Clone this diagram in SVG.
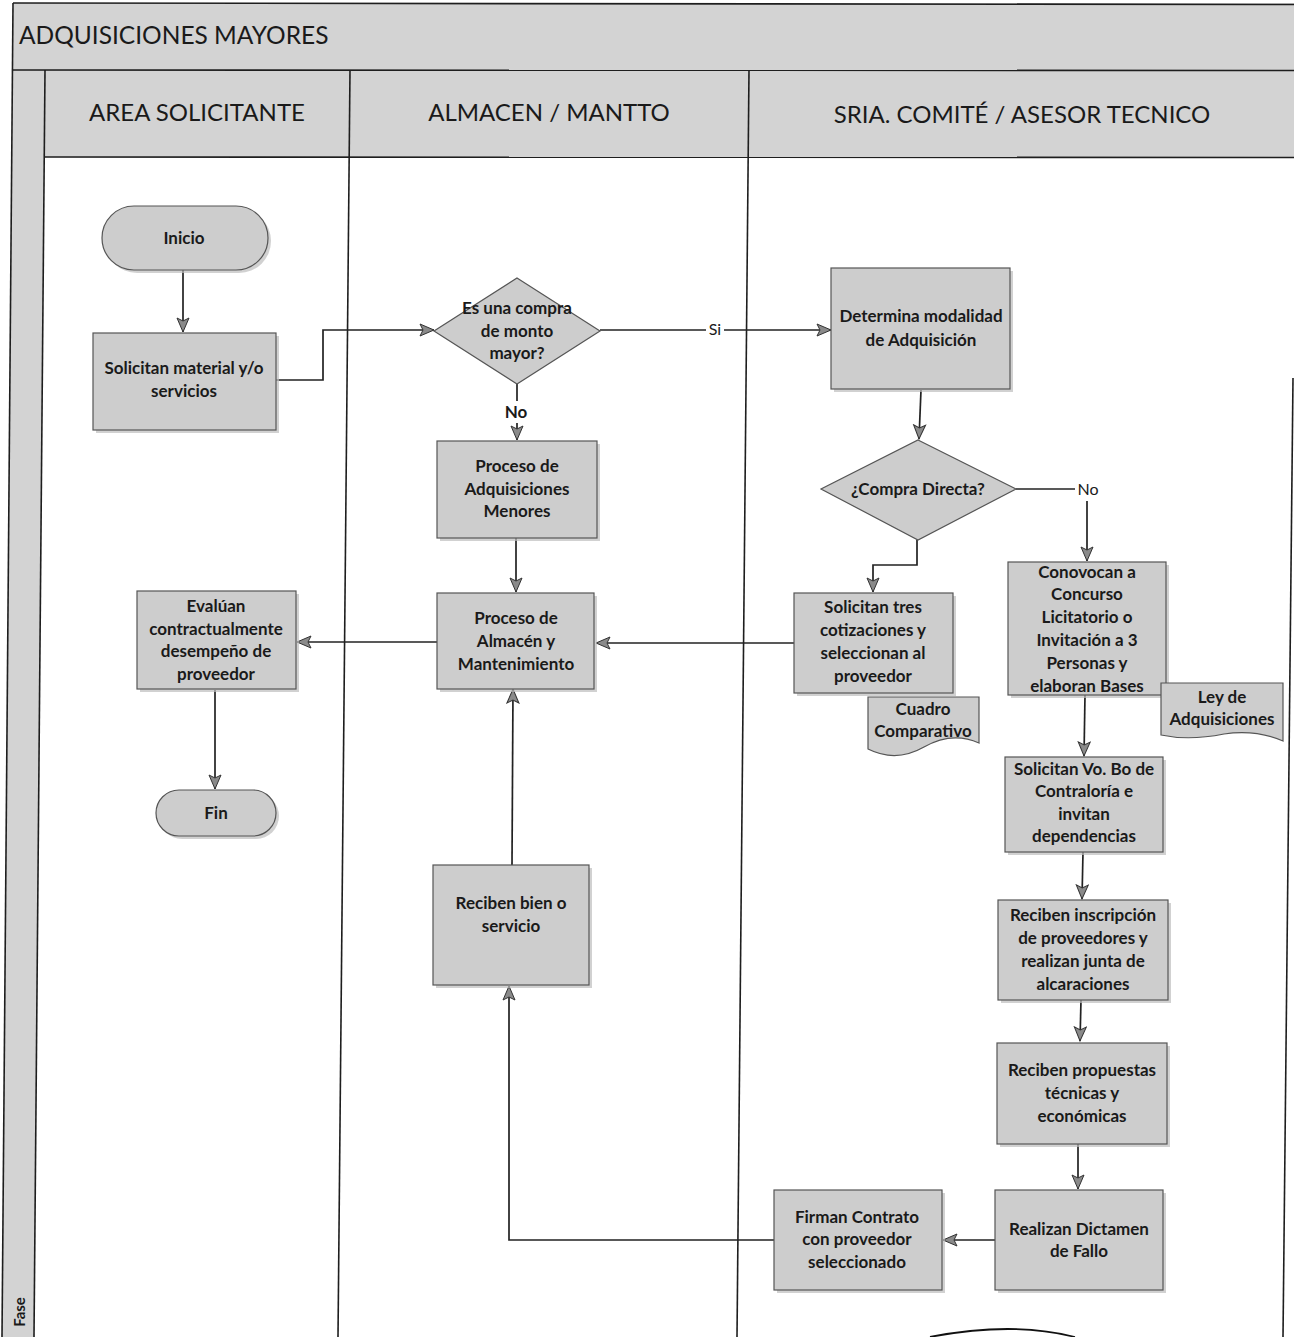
<svg xmlns="http://www.w3.org/2000/svg" width="1294" height="1337" viewBox="0 0 1294 1337">
<defs>
<style>
.band{fill:#d3d3d3;stroke:none}
.frame{stroke:#1e1e1e;stroke-width:1.6;fill:none}
.box{fill:#cdcdcd;stroke:#555;stroke-width:1.2}
.shadow{fill:#bdbdbd;stroke:none;opacity:0.7}
.t{font-family:Lato,"Open Sans",sans-serif;font-weight:bold;font-size:17px;fill:#1a1a1a;text-anchor:middle}
.hdr{font-family:Lato,"Open Sans",sans-serif;font-size:24px;fill:#1a1a1a;text-anchor:middle}
.ttl{font-family:Lato,"Open Sans",sans-serif;font-size:24.5px;fill:#1a1a1a}
.conn{stroke:#222;stroke-width:1.7;fill:none}
.lbl{font-family:Lato,"Open Sans",sans-serif;font-size:16px;fill:#1a1a1a;text-anchor:middle}
</style>
<marker id="arr" markerUnits="userSpaceOnUse" markerWidth="18" markerHeight="16" refX="15" refY="7" orient="auto">
<path d="M1,1 L15,7 L1,13 L4,7 Z" fill="#8a8a8a" stroke="#333" stroke-width="1"/>
</marker>
</defs>
<rect width="1294" height="1337" fill="#ffffff"/>

<g id="frame">
<polygon class="band" points="13,3 1294,3 1294,70 12.4,70"/>
<polygon class="band" points="45,70 1294,70 1294,157 44.2,157"/>
<polygon class="band" points="12.4,70 45,70 34,1337 2,1337"/>
<line class="frame" x1="13" y1="3" x2="1294" y2="4.5"/>
<line class="frame" x1="12.4" y1="70" x2="1294" y2="70.5"/>
<line class="frame" x1="44.2" y1="157" x2="1294" y2="157.5"/>
<line class="frame" x1="13" y1="3" x2="2" y2="1337"/>
<line class="frame" x1="45" y1="70" x2="34" y2="1337"/>
<line class="frame" x1="350" y1="70" x2="338" y2="1337"/>
<line class="frame" x1="749" y1="70" x2="737" y2="1337"/>
<line class="frame" x1="1293" y1="378" x2="1283" y2="1337"/>
<text class="ttl" x="19" y="44">ADQUISICIONES MAYORES</text>
<text class="hdr" x="197" y="121">AREA SOLICITANTE</text>
<text class="hdr" x="549" y="121">ALMACEN / MANTTO</text>
<text class="hdr" x="1022" y="123">SRIA. COMITÉ / ASESOR TECNICO</text>
<text class="t" style="font-size:15px" transform="translate(25,1312) rotate(-90)">Fase</text>
<path d="M930,1337 Q1013,1321 1075,1337" stroke="#111" stroke-width="1.8" fill="none"/>
</g>

<g id="connectors">
<line class="conn" x1="183" y1="270" x2="183" y2="332" marker-end="url(#arr)"/>
<polyline class="conn" points="276,380 323,380 323,330 434,330" marker-end="url(#arr)"/>
<line class="conn" x1="600" y1="330" x2="706" y2="330"/>
<text class="lbl" x="715" y="335">Si</text>
<line class="conn" x1="724" y1="330" x2="831" y2="330" marker-end="url(#arr)"/>
<line class="conn" x1="517" y1="384" x2="517" y2="401"/>
<text class="t" x="516" y="418">No</text>
<line class="conn" x1="517" y1="423" x2="517" y2="440" marker-end="url(#arr)"/>
<line class="conn" x1="516" y1="538" x2="516" y2="592" marker-end="url(#arr)"/>
<line class="conn" x1="921" y1="390" x2="919" y2="439" marker-end="url(#arr)"/>
<polyline class="conn" points="917,540 917,565 873,565 873,592" marker-end="url(#arr)"/>
<line class="conn" x1="1016" y1="489" x2="1075" y2="489"/>
<text class="lbl" x="1088" y="495">No</text>
<line class="conn" x1="1087" y1="501" x2="1087" y2="561" marker-end="url(#arr)"/>
<line class="conn" x1="794" y1="643" x2="596" y2="643" marker-end="url(#arr)"/>
<line class="conn" x1="437" y1="642" x2="297" y2="642" marker-end="url(#arr)"/>
<line class="conn" x1="215" y1="690" x2="215" y2="789" marker-end="url(#arr)"/>
<line class="conn" x1="1085" y1="695" x2="1084" y2="756" marker-end="url(#arr)"/>
<line class="conn" x1="1083" y1="852" x2="1082" y2="899" marker-end="url(#arr)"/>
<line class="conn" x1="1081" y1="1000" x2="1080" y2="1041" marker-end="url(#arr)"/>
<line class="conn" x1="1078" y1="1143" x2="1078" y2="1189" marker-end="url(#arr)"/>
<line class="conn" x1="995" y1="1240" x2="943" y2="1240" marker-end="url(#arr)"/>
<polyline class="conn" points="774,1240 509,1240 509,986" marker-end="url(#arr)"/>
<line class="conn" x1="512" y1="865" x2="513" y2="689" marker-end="url(#arr)"/>
</g>

<g id="inicio">
<rect class="shadow" x="105" y="209" width="166" height="64" rx="32"/>
<rect class="box" x="102" y="206" width="166" height="64" rx="32"/>
<text class="t" x="184" y="244">Inicio</text>
</g>
<g id="solicitan-material">
<rect class="shadow" x="96" y="336" width="183" height="97"/>
<rect class="box" x="93" y="333" width="183" height="97"/>
<text class="t" x="184" y="374">Solicitan material y/o</text>
<text class="t" x="184" y="397">servicios</text>
</g>
<g id="decision-monto">
<polygon class="box" points="517,278 600,331 517,384 434,331"/>
<text class="t" x="517" y="314">Es una compra</text>
<text class="t" x="517" y="337">de monto</text>
<text class="t" x="517" y="359">mayor?</text>
</g>
<g id="proceso-menores">
<rect class="shadow" x="440" y="444" width="160" height="97"/>
<rect class="box" x="437" y="441" width="160" height="97"/>
<text class="t" x="517" y="472">Proceso de</text>
<text class="t" x="517" y="495">Adquisiciones</text>
<text class="t" x="517" y="517">Menores</text>
</g>
<g id="determina">
<rect class="shadow" x="834" y="271" width="179" height="121"/>
<rect class="box" x="831" y="268" width="179" height="121"/>
<text class="t" x="921" y="322">Determina modalidad</text>
<text class="t" x="921" y="346">de Adquisición</text>
</g>
<g id="decision-directa">
<polygon class="box" points="918,440 1016,489 918,540 821,489"/>
<text class="t" x="918" y="495">¿Compra Directa?</text>
</g>
<g id="solicitan-tres">
<rect class="shadow" x="797" y="596" width="159" height="100"/>
<rect class="box" x="794" y="593" width="159" height="100"/>
<text class="t" x="873" y="613">Solicitan tres</text>
<text class="t" x="873" y="636">cotizaciones y</text>
<text class="t" x="873" y="659">seleccionan al</text>
<text class="t" x="873" y="682">proveedor</text>
</g>
<g id="cuadro-comparativo">
<path class="box" d="M868,697 H979 V743 Q952,731 924,747 Q896,763 868,749 Z"/>
<text class="t" x="923" y="715">Cuadro</text>
<text class="t" x="923" y="737">Comparativo</text>
</g>
<g id="conovocan">
<rect class="shadow" x="1011" y="565" width="158" height="133"/>
<rect class="box" x="1008" y="562" width="158" height="133"/>
<text class="t" x="1087" y="578">Conovocan a</text>
<text class="t" x="1087" y="600">Concurso</text>
<text class="t" x="1087" y="623">Licitatorio o</text>
<text class="t" x="1087" y="646">Invitación a 3</text>
<text class="t" x="1087" y="669">Personas y</text>
<text class="t" x="1087" y="692">elaboran Bases</text>
</g>
<g id="ley-adquisiciones">
<path class="box" d="M1161,683 H1283 V741 Q1255,729 1224,734 Q1189,741 1161,735 Z"/>
<text class="t" x="1222" y="703">Ley de</text>
<text class="t" x="1222" y="725">Adquisiciones</text>
</g>
<g id="proceso-almacen">
<rect class="shadow" x="440" y="596" width="157" height="96"/>
<rect class="box" x="437" y="593" width="157" height="96"/>
<text class="t" x="516" y="624">Proceso de</text>
<text class="t" x="516" y="647">Almacén y</text>
<text class="t" x="516" y="670">Mantenimiento</text>
</g>
<g id="evaluan">
<rect class="shadow" x="140" y="594" width="159" height="98"/>
<rect class="box" x="137" y="591" width="159" height="98"/>
<text class="t" x="216" y="612">Evalúan</text>
<text class="t" x="216" y="635">contractualmente</text>
<text class="t" x="216" y="657">desempeño de</text>
<text class="t" x="216" y="680">proveedor</text>
</g>
<g id="fin">
<rect class="shadow" x="159" y="793" width="120" height="46" rx="23"/>
<rect class="box" x="156" y="790" width="120" height="46" rx="23"/>
<text class="t" x="216" y="819">Fin</text>
</g>
<g id="vobo">
<rect class="shadow" x="1008" y="760" width="158" height="95"/>
<rect class="box" x="1005" y="757" width="158" height="95"/>
<text class="t" x="1084" y="775">Solicitan Vo. Bo de</text>
<text class="t" x="1084" y="797">Contraloría e</text>
<text class="t" x="1084" y="820">invitan</text>
<text class="t" x="1084" y="842">dependencias</text>
</g>
<g id="reciben-bien">
<rect class="shadow" x="436" y="868" width="156" height="120"/>
<rect class="box" x="433" y="865" width="156" height="120"/>
<text class="t" x="511" y="909">Reciben bien o</text>
<text class="t" x="511" y="932">servicio</text>
</g>
<g id="reciben-inscripcion">
<rect class="shadow" x="1001" y="903" width="170" height="100"/>
<rect class="box" x="998" y="900" width="170" height="100"/>
<text class="t" x="1083" y="921">Reciben inscripción</text>
<text class="t" x="1083" y="944">de proveedores y</text>
<text class="t" x="1083" y="967">realizan junta de</text>
<text class="t" x="1083" y="990">alcaraciones</text>
</g>
<g id="reciben-propuestas">
<rect class="shadow" x="1000" y="1046" width="170" height="101"/>
<rect class="box" x="997" y="1043" width="170" height="101"/>
<text class="t" x="1082" y="1076">Reciben propuestas</text>
<text class="t" x="1082" y="1099">técnicas y</text>
<text class="t" x="1082" y="1122">económicas</text>
</g>
<g id="dictamen">
<rect class="shadow" x="998" y="1193" width="168" height="100"/>
<rect class="box" x="995" y="1190" width="168" height="100"/>
<text class="t" x="1079" y="1235">Realizan Dictamen</text>
<text class="t" x="1079" y="1257">de Fallo</text>
</g>
<g id="firman">
<rect class="shadow" x="777" y="1193" width="168" height="100"/>
<rect class="box" x="774" y="1190" width="168" height="100"/>
<text class="t" x="857" y="1223">Firman Contrato</text>
<text class="t" x="857" y="1245">con proveedor</text>
<text class="t" x="857" y="1268">seleccionado</text>
</g>
</svg>
